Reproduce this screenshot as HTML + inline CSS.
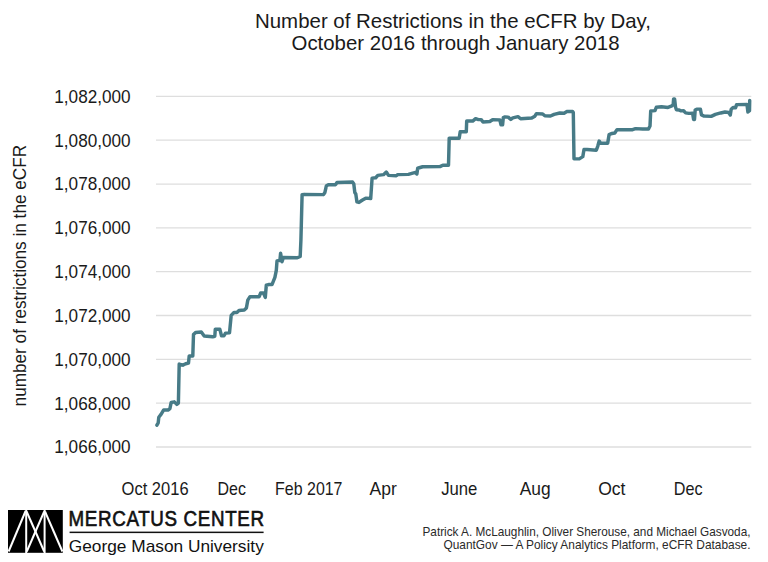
<!DOCTYPE html>
<html><head><meta charset="utf-8"><style>
html,body{margin:0;padding:0;background:#fff;}
body{width:768px;height:562px;overflow:hidden;}
svg{display:block;font-family:"Liberation Sans",sans-serif;}
</style></head><body>
<svg width="768" height="562" viewBox="0 0 768 562">
<rect width="768" height="562" fill="#fff"/>
<g fill="#1a1a1a" font-size="21">
<text x="453" y="27.9" text-anchor="middle" textLength="396" lengthAdjust="spacingAndGlyphs">Number of Restrictions in the eCFR by Day,</text>
<text x="455.5" y="50" text-anchor="middle" textLength="328" lengthAdjust="spacingAndGlyphs">October 2016 through January 2018</text>
</g>
<g stroke="#dedede" stroke-width="1.3">
<line x1="156" y1="96.4" x2="751.3" y2="96.4" />
<line x1="156" y1="140.2" x2="751.3" y2="140.2" />
<line x1="156" y1="184.1" x2="751.3" y2="184.1" />
<line x1="156" y1="227.9" x2="751.3" y2="227.9" />
<line x1="156" y1="271.7" x2="751.3" y2="271.7" />
<line x1="156" y1="315.5" x2="751.3" y2="315.5" />
<line x1="156" y1="359.4" x2="751.3" y2="359.4" />
<line x1="156" y1="403.2" x2="751.3" y2="403.2" />
<line x1="156" y1="447.0" x2="751.3" y2="447.0" />
</g>
<g fill="#1a1a1a" font-size="18.1">
<text x="130.6" y="102.7" text-anchor="end" textLength="76.3" lengthAdjust="spacingAndGlyphs">1,082,000</text>
<text x="130.6" y="146.5" text-anchor="end" textLength="76.3" lengthAdjust="spacingAndGlyphs">1,080,000</text>
<text x="130.6" y="190.4" text-anchor="end" textLength="76.3" lengthAdjust="spacingAndGlyphs">1,078,000</text>
<text x="130.6" y="234.2" text-anchor="end" textLength="76.3" lengthAdjust="spacingAndGlyphs">1,076,000</text>
<text x="130.6" y="278.0" text-anchor="end" textLength="76.3" lengthAdjust="spacingAndGlyphs">1,074,000</text>
<text x="130.6" y="321.8" text-anchor="end" textLength="76.3" lengthAdjust="spacingAndGlyphs">1,072,000</text>
<text x="130.6" y="365.7" text-anchor="end" textLength="76.3" lengthAdjust="spacingAndGlyphs">1,070,000</text>
<text x="130.6" y="409.5" text-anchor="end" textLength="76.3" lengthAdjust="spacingAndGlyphs">1,068,000</text>
<text x="130.6" y="453.3" text-anchor="end" textLength="76.3" lengthAdjust="spacingAndGlyphs">1,066,000</text>
</g>
<text transform="translate(25.8,406.4) rotate(-90)" fill="#1a1a1a" font-size="17.5" textLength="261.5" lengthAdjust="spacingAndGlyphs">number of restrictions in the eCFR</text>
<g fill="#1a1a1a" font-size="18.2">
<text x="155.1" y="494.8" text-anchor="middle" textLength="67.0" lengthAdjust="spacingAndGlyphs">Oct 2016</text>
<text x="231.7" y="494.8" text-anchor="middle" textLength="28.4" lengthAdjust="spacingAndGlyphs">Dec</text>
<text x="308.8" y="494.8" text-anchor="middle" textLength="67.4" lengthAdjust="spacingAndGlyphs">Feb 2017</text>
<text x="383.1" y="494.8" text-anchor="middle" textLength="27.3" lengthAdjust="spacingAndGlyphs">Apr</text>
<text x="459.3" y="494.8" text-anchor="middle" textLength="36.2" lengthAdjust="spacingAndGlyphs">June</text>
<text x="535.2" y="494.8" text-anchor="middle" textLength="30.9" lengthAdjust="spacingAndGlyphs">Aug</text>
<text x="611.8" y="494.8" text-anchor="middle" textLength="27.3" lengthAdjust="spacingAndGlyphs">Oct</text>
<text x="688.2" y="494.8" text-anchor="middle" textLength="28.8" lengthAdjust="spacingAndGlyphs">Dec</text>
</g>
<polyline points="156.9,424.7 158.2,422.4 158.8,416.8 161.2,413.7 163.7,409.5 168,409.6 169.9,408.1 171.2,402 174.3,401.4 176.8,403.9 178.4,402.6 179.2,363.6 182.8,364.7 185.7,363.3 188.5,362.6 189.2,355.5 192.8,355.5 193.5,334.1 195.6,332 201.3,331.6 204.2,335.6 212.7,336.3 214.8,335.8 215.3,328.7 219.8,328.7 221.5,335.3 224,335.3 225.5,332.7 229.5,332.4 231.2,314.9 234,312 236.9,312 239,310 244.3,309.5 246.4,307.6 247.8,299.7 250,296.2 259.2,296.2 260.6,292.6 263.5,292.6 265.3,296.9 266.3,284.8 268.5,284.1 272,284.1 274.9,277 276.3,269.9 277,260.6 279.9,259.9 280.6,252.8 281.3,257 282,261.3 283.4,257 297.3,257.3 300.2,256 300.9,240 302.1,194.2 304.2,193.9 323.5,194.2 324.9,192 326.3,185.6 328.4,184.2 335.6,184.2 337,182 352.6,181.6 353.8,183.5 354.8,192 355.8,193.5 356.9,201.3 359,202 362.1,199.8 365.7,197.7 370.7,198.1 372.1,177.7 375.7,177.3 377.8,174.9 383.5,174.2 386.3,171.6 388.5,174.9 396.3,175.3 397.7,174.2 408.4,173.9 412.7,172.7 415.5,172 416.9,173.5 417.7,167.8 422.6,166.3 440,166.2 442.8,164.8 448.5,164.8 449.2,137.7 459.2,137.7 460.2,131.3 466.3,131.3 466.7,120.6 472.7,120.6 475.6,118.2 478.4,119.2 481.2,119.2 483,121.6 489.8,121.1 492.6,119.3 499.8,119.4 501,124.3 502.6,124.3 503.3,117.2 505,116.5 508.2,116.7 510.8,119 512.8,117.4 518,116.2 520.6,118.3 531.7,117.6 534.9,115.7 536.4,113.2 542.7,113.5 544.8,115.3 550.5,115.6 554.1,113.9 559.8,112.5 564.1,112.8 566.9,111.1 572.6,111.1 573.3,112.1 574,158.3 579.3,158.4 582.8,156.2 584,149.1 587.1,149.1 596.3,149.8 597.8,145.6 599.2,140.6 600.6,142.7 607.7,142.7 609.1,134.2 612,133 614.8,132.5 617,129.2 632.6,129.2 635.5,128.2 642.6,128.5 648.5,128.6 650,125.6 650.7,110.6 655,110.2 656.3,106.8 661.5,106.3 668,107 671.9,105.5 673.2,104 673.6,98.5 674.6,98.5 675.5,106.5 676.4,109.3 679.1,109.5 680.7,110.4 683.6,110.3 685.6,112.4 688.9,112.9 692.6,112.8 693.6,119 694.5,119 695.2,109.5 696.7,108.7 700.4,108.7 701.5,114.5 704.1,115.6 711.2,115.9 715.4,113.9 720.7,112.5 725,111.5 728.7,112.1 730.3,114.5 731.2,108.9 733.1,107.1 735.6,107.3 736.6,104.2 747,104.1 747.9,111.6 749.5,110.2 749.7,100" fill="none" stroke="#477b87" stroke-width="3.45" transform="translate(0,0.45)" stroke-linejoin="round" stroke-linecap="round"/>
<g>
<rect x="8" y="510" width="54.8" height="42.8" fill="#000"/>
<g stroke="#fff" stroke-width="2" fill="none">
<line x1="26.2" y1="510" x2="26.2" y2="553"/>
<line x1="44.6" y1="510" x2="44.6" y2="553"/>
<line x1="8.6" y1="551.5" x2="25.6" y2="511"/>
<line x1="26.6" y1="511.5" x2="44.2" y2="551.5"/>
<line x1="26.8" y1="551.5" x2="44.2" y2="511.5"/>
<line x1="45" y1="511.5" x2="62.4" y2="551.5"/>
</g>
</g>
<text transform="translate(68.5,526.1) scale(0.87,1)" font-size="21.6" fill="#111" stroke="#111" stroke-width="0.65" textLength="224.8" lengthAdjust="spacing">MERCATUS CENTER</text>
<rect x="69.6" y="531.6" width="194" height="1.5" fill="#111"/>
<text x="68.8" y="551.7" font-size="17" fill="#111" textLength="195" lengthAdjust="spacingAndGlyphs">George Mason University</text>
<g fill="#2a2a2a" font-size="12.2" text-anchor="end">
<text x="750.5" y="536.1" textLength="328" lengthAdjust="spacingAndGlyphs">Patrick A. McLaughlin, Oliver Sherouse, and Michael Gasvoda,</text>
<text x="750.5" y="548.5" textLength="307" lengthAdjust="spacingAndGlyphs">QuantGov — A Policy Analytics Platform, eCFR Database.</text>
</g>
</svg>
</body></html>
